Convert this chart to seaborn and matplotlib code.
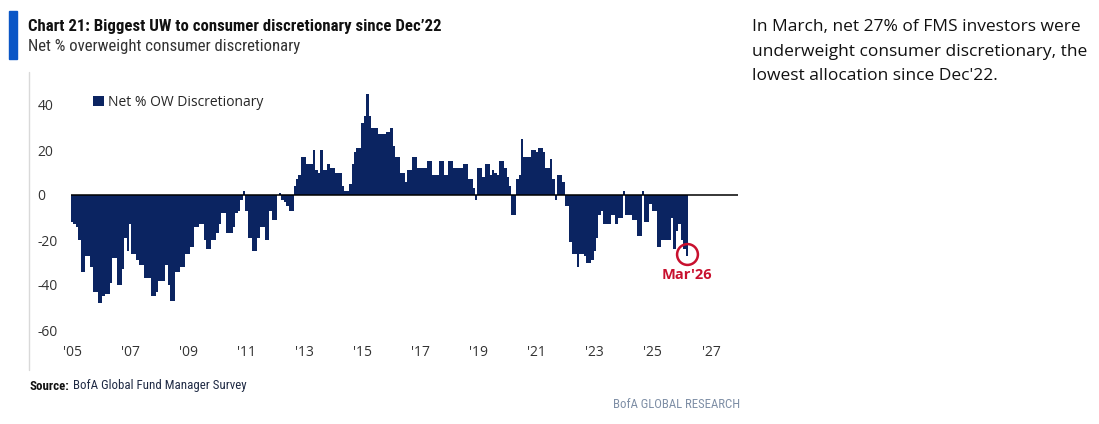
import matplotlib
matplotlib.use("Agg")
import matplotlib.pyplot as plt
import seaborn as sns
import pandas as pd
from matplotlib.patches import Rectangle
from matplotlib.lines import Line2D

# monthly net % overweight consumer discretionary (Jan 2005 -> Mar 2026)
ow_05_09 = [-12, -13, -14, -20, -34, -34, -27, -27, -32, -43, -43, -48,
            -48, -45, -44, -44, -39, -28, -28, -40, -40, -33, -19, -25,
            -13, -26, -26, -29, -31, -31, -37, -37, -37, -45, -45, -43,
            -38, -38, -38, -31, -40, -47, -47, -34, -34, -32, -32, -26,
            -26, -23, -23, -14, -14, -13, -13, -20, -24, -24, -20, -20]
ow_10_14 = [-17, -13, -8, -8, -17, -17, -17, -14, -8, -7, -2, 2,
            -7, -19, -19, -25, -25, -19, -14, -14, -20, -20, -7, -11,
            -11, 0, 1, -2, -3, -5, -7, -7, 4, 7, 9, 17,
            17, 14, 14, 14, 20, 11, 10, 20, 11, 11, 14, 12,
            12, 10, 10, 10, 4, 2, 2, 5, 14, 19, 21, 21]
ow_15_19 = [32, 35, 45, 35, 30, 30, 30, 27, 27, 27, 28, 28,
            30, 22, 17, 17, 10, 10, 6, 11, 11, 17, 17, 12,
            12, 12, 12, 15, 15, 9, 9, 9, 15, 15, 9, 9,
            15, 15, 12, 12, 12, 12, 14, 14, 7, 7, 3, -2,
            12, 12, 8, 14, 14, 9, 11, 10, 9, 15, 15, 12]
ow_20_24 = [8, 4, -9, -9, 7, 9, 25, 17, 17, 17, 20, 20,
            19, 21, 21, 19, 12, 12, 16, 7, -2, 9, 9, 6,
            -5, -5, -21, -26, -26, -32, -26, -26, -27, -30, -30, -29,
            -25, -19, -9, -7, -13, -13, -13, -9, -9, -13, -10, -10,
            2, -9, -9, -9, -11, -11, -18, -18, 2, -12, -12, -4]
ow_25_26 = [-7, -7, -23, -23, -20, -20, -20, -20, -10, -24, -16, -13,
            -20, -24, -27]

series_name = "Net % OW Discretionary"
start_month = "2005-01"
year_ticks = list(range(2005, 2028, 2))
y_ticks = [-60, -40, -20, 0, 20, 40]
last_label = "Mar'26"

title = "Chart 21: Biggest UW to consumer discretionary since Dec\u201922"
subtitle = "Net % overweight consumer discretionary"
side_lines = ["In March, net 27% of FMS investors were",
              "underweight consumer discretionary, the",
              "lowest allocation since Dec'22."]
source_bold = "Source:"
source_rest = " BofA Global Fund Manager Survey"
brand = "BofA GLOBAL RESEARCH"

values = ow_05_09 + ow_10_14 + ow_15_19 + ow_20_24 + ow_25_26
dates = pd.date_range(start_month, periods=len(values), freq="MS")
df = pd.DataFrame({"date": dates, "net_ow": values})
df["x"] = df["date"].dt.year + (df["date"].dt.month - 1) / 12
df["series"] = series_name

NAVY = "#0B2461"
RED = "#C8102E"
W, H = 1099, 424
narrow = dict(family=["Roboto Condensed", "Liberation Sans Narrow", "Roboto", "DejaVu Sans"])

sns.set_style("white")
plt.rcParams["font.family"] = ["Open Sans", "DejaVu Sans"]
plt.rcParams["axes.unicode_minus"] = False

fig = plt.figure(figsize=(W / 100, H / 100), dpi=100)
renderer = fig.canvas.get_renderer()
ax = fig.add_axes([70.7 / W, 1 - 330 / H, (738 - 70.7) / W, (330 - 82.5) / H])

sns.barplot(data=df, x="x", y="net_ow", hue="series", palette={series_name: NAVY},
            native_scale=True, width=1.0, linewidth=0, saturation=1,
            errorbar=None, ax=ax)

ax.axhline(0, color="black", lw=1.1, zorder=3)
ax.set_xlim(2004.95, 2027.93)
ax.set_ylim(-60, 50)
ax.set_xticks(year_ticks)
ax.set_xticklabels([f"'{y % 100:02d}" for y in year_ticks])
ax.set_yticks(y_ticks)
ax.set_xlabel("")
ax.set_ylabel("")
for s in ax.spines.values():
    s.set_visible(False)
ax.tick_params(axis="both", length=0, labelsize=10, colors="#333333")
ax.tick_params(axis="x", pad=11)
ax.tick_params(axis="y", pad=24)
for lab in ax.get_yticklabels():
    lab.set_horizontalalignment("left")

leg = ax.legend(loc="upper left", bbox_to_anchor=(0.015, 1.0), frameon=False,
                fontsize=10, handlelength=0.8, handleheight=0.8, handletextpad=0.3)

# highlight the latest reading
x_last, v_last = df["x"].iloc[-1], df["net_ow"].iloc[-1]
ax.plot(x_last, v_last + 1, marker="o", ms=15, mfc="none", mec=RED, mew=1.8, zorder=4)
ax.annotate(last_label, xy=(x_last, v_last), xytext=(0, -9), textcoords="offset points",
            ha="center", va="top", color=RED, fontweight="bold", fontsize=10.5)


def fit(texts, width_px, max_grow=1.15):
    # scale a run of texts so that together they span width_px
    total = sum(t.get_window_extent(renderer).width for t in texts)
    k = min(width_px / total, max_grow)
    for t in texts:
        t.set_fontsize(t.get_fontsize() * k)


# header, side note and footer
fig.patches.append(Rectangle((9 / W, 1 - 59 / H), 8 / W, 48 / H,
                             transform=fig.transFigure, color="#0A56C6"))
fig.lines.append(Line2D([29 / W, 29 / W], [1 - 72 / H, 1 - 370 / H],
                        transform=fig.transFigure, color="#d9d9d9", lw=1))
t_title = fig.text(28 / W, 1 - 26 / H, title, fontsize=11.5, fontweight="bold",
                   va="center", color="#111111", **narrow)
fit([t_title], 413)
t_sub = fig.text(28 / W, 1 - 47 / H, subtitle, fontsize=10.5, va="center",
                 color="#333333", **narrow)
fit([t_sub], 275)

side = [fig.text(752 / W, 1 - (27 + 24.5 * i) / H, line, fontsize=12.5, va="center",
                 color="#111111") for i, line in enumerate(side_lines)]
fit(side, 333 + 328 + 248)

src = fig.text(30 / W, 1 - 386 / H, source_bold, fontsize=9, fontweight="bold",
               va="center", color="#111111", **narrow)
src2 = fig.text(0, 1 - 386 / H, source_rest, fontsize=9, va="center",
                color="#1f2a44", **narrow)
fit([src, src2], 215)
src2.set_x(src.get_window_extent(renderer).x1 / W)
t_brand = fig.text(740 / W, 1 - 404 / H, brand, fontsize=9, va="center", ha="right",
                   color="#7F8FA6", **narrow)
fit([t_brand], 127)

fig.savefig("out.png", dpi=100)
